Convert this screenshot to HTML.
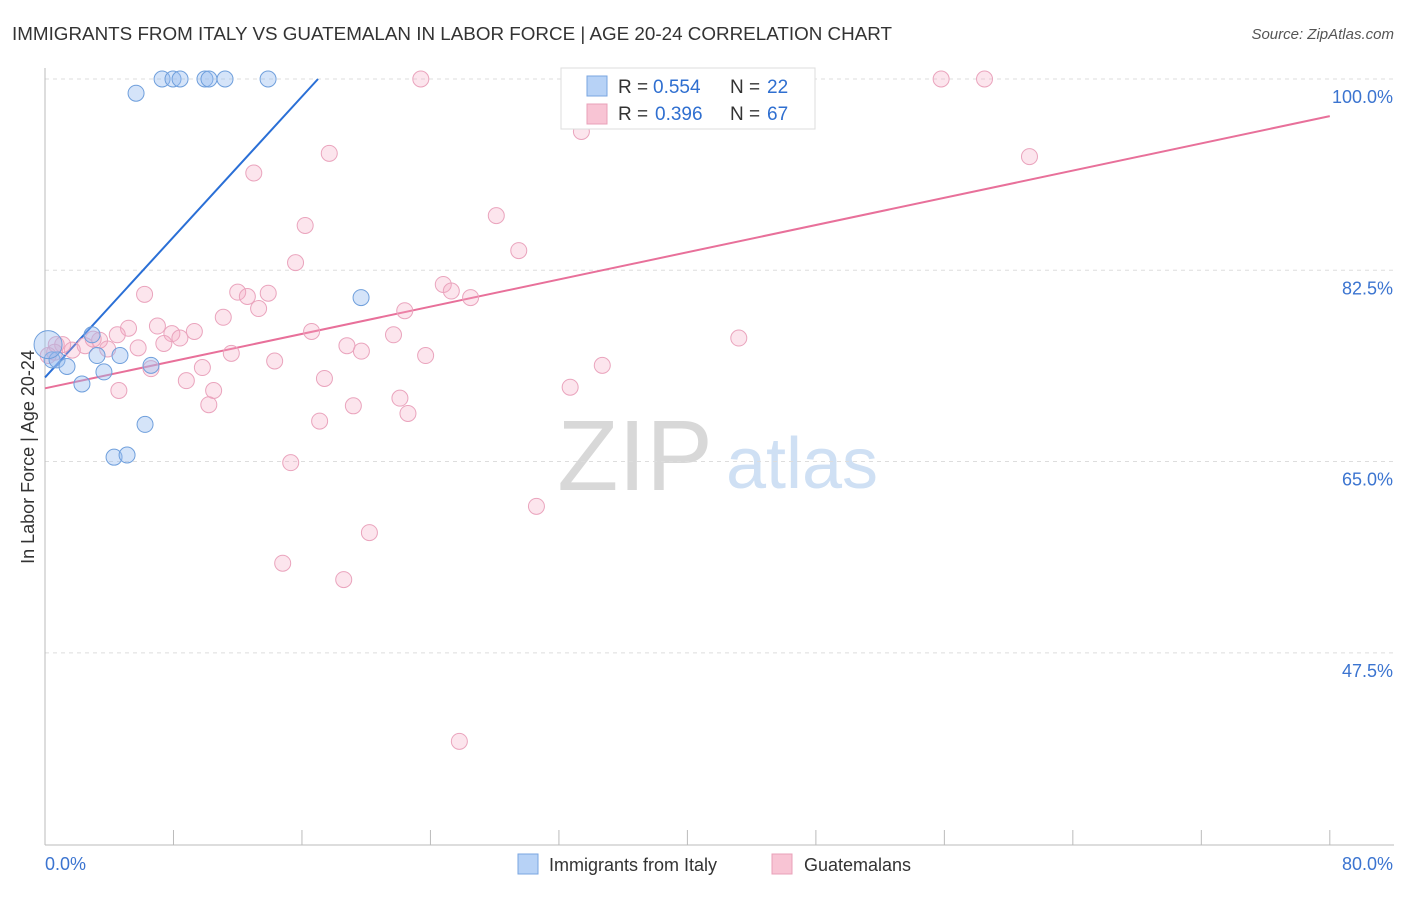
<!DOCTYPE html>
<html><head><meta charset="utf-8"><style>
body{margin:0;background:#fff;font-family:"Liberation Sans",sans-serif;}
svg text{font-family:"Liberation Sans",sans-serif;}
</style></head><body>
<svg width="1406" height="892" id="chart">
<text x="12" y="40" font-size="18" fill="#333" textLength="880" lengthAdjust="spacingAndGlyphs">IMMIGRANTS FROM ITALY VS GUATEMALAN IN LABOR FORCE | AGE 20-24 CORRELATION CHART</text>
<text x="1394" y="39" font-size="15" fill="#555" text-anchor="end" font-style="italic">Source: ZipAtlas.com</text>
<text x="34" y="457" font-size="18" fill="#333" text-anchor="middle" transform="rotate(-90 34 457)">In Labor Force | Age 20-24</text>
<g><text x="635" y="490" font-size="100" fill="#d8d8d8" text-anchor="middle" font-family="Liberation Serif, serif">ZIP</text><text x="802" y="488" font-size="72" fill="#cfe0f4" text-anchor="middle">atlas</text></g>
<g id="grid"></g><g id="axes"></g><g id="lines"></g><g id="pts"></g>
<g>
<rect x="561" y="68" width="254" height="61" fill="#fff" stroke="#ddd"/>
<rect x="587" y="76" width="20" height="20" fill="#b7d2f6" stroke="#7aa6e0"/>
<rect x="587" y="104" width="20" height="20" fill="#f8c4d4" stroke="#e9a0b8"/>
<text x="618" y="93" font-size="19" fill="#333">R =</text><text x="653" y="93" font-size="19" fill="#2f6fd0">0.554</text>
<text x="730" y="93" font-size="19" fill="#333">N =</text><text x="767" y="93" font-size="19" fill="#2f6fd0">22</text>
<text x="618" y="120" font-size="19" fill="#333">R =</text><text x="655" y="120" font-size="19" fill="#2f6fd0">0.396</text>
<text x="730" y="120" font-size="19" fill="#333">N =</text><text x="767" y="120" font-size="19" fill="#2f6fd0">67</text>
</g>
<g>
<rect x="518" y="854" width="20" height="20" fill="#b7d2f6" stroke="#7aa6e0"/>
<text x="549" y="871" font-size="18" fill="#333">Immigrants from Italy</text>
<rect x="772" y="854" width="20" height="20" fill="#f8c4d4" stroke="#e9a0b8"/>
<text x="804" y="871" font-size="18" fill="#333">Guatemalans</text>
</g>
</svg>
<script>
const blueX=[5.67,7.29,7.97,8.41,9.96,10.21,11.21,13.89,19.68,0.44,0.75,1.37,2.30,2.93,3.24,3.67,4.67,6.60,6.23,4.30,5.11,0.19];
const blueY=[98.7,100,100,100,100,100,100,100,80.0,74.3,74.3,73.7,72.1,76.6,74.7,73.2,74.7,73.8,68.4,65.4,65.6,75.7];
const pinkX=[23.4,36.6,55.8,58.5,33.4,61.3,17.7,13.0,16.2,28.1,29.5,15.6,24.8,25.3,26.5,6.2,12.0,12.6,13.9,13.3,11.1,22.4,7.0,5.2,7.9,9.3,8.4,16.6,21.7,43.2,7.4,5.8,4.5,3.4,2.5,1.7,1.1,0.6,0.7,18.8,19.7,23.7,11.6,14.3,6.6,9.8,8.8,4.6,10.5,17.4,34.7,32.7,22.1,19.2,10.2,22.6,17.1,15.3,30.6,20.2,14.8,18.6,25.8,3.0,3.9,0.2];
const pinkY=[100,100,100,100,95.2,92.9,93.2,91.4,86.6,87.5,84.3,83.2,81.2,80.6,80.0,80.3,80.5,80.1,80.4,79.0,78.2,78.8,77.4,77.2,76.7,76.9,76.3,76.9,76.6,76.3,75.8,75.4,76.6,76.1,75.6,75.2,75.7,75.0,75.7,75.6,75.1,74.7,74.9,74.2,73.5,73.6,72.4,71.5,71.5,72.6,73.8,71.8,70.8,70.1,70.2,69.4,68.7,64.9,60.9,58.5,55.7,54.2,39.4,76.2,75.3,74.7];
const blueLine=[0,72.7,17.0,100];
const pinkLine=[0,71.7,80,96.6];
const yTicks=[100,82.5,65,47.5];
const yTickLabels=["100.0%","82.5%","65.0%","47.5%"];
const NS="http://www.w3.org/2000/svg";
const sx=v=>45+v*16.06, sy=v=>79+(100-v)*10.93;
function mk(p,t,a){const e=document.createElementNS(NS,t);for(const k in a)e.setAttribute(k,a[k]);document.getElementById(p).appendChild(e);return e;}
yTicks.forEach((t,i)=>{
 const g=mk('grid','line',{x1:45,x2:1394,y1:sy(t),y2:sy(t),stroke:'#ddd','stroke-dasharray':'4 4'});
 
 
 const l=mk('axes','text',{x:1393,y:sy(t)+24,'font-size':18,fill:'#3b74d0','text-anchor':'end'});
 l.textContent=yTickLabels[i];
 
 
});
mk('axes','line',{x1:45,x2:45,y1:68,y2:845,stroke:'#bbb'});
mk('axes','line',{x1:45,x2:1394,y1:845,y2:845,stroke:'#bbb'});
for(let i=1;i<=10;i++){mk('axes','line',{x1:sx(i*8),x2:sx(i*8),y1:830,y2:845,stroke:'#bbb'});}
const x0=mk('axes','text',{x:45,y:870,'font-size':18,fill:'#3b74d0'});x0.textContent='0.0%';


const x1=mk('axes','text',{x:1393,y:870,'font-size':18,fill:'#3b74d0','text-anchor':'end'});x1.textContent='80.0%';


pinkX.forEach((x,i)=>{
 const c=mk('pts','circle',{cx:sx(x),cy:sy(pinkY[i]),r:8,fill:'rgba(244,170,196,0.3)',stroke:'#eaa4bd','stroke-width':1});
 
 
});
blueX.forEach((x,i)=>{
 const c=mk('pts','circle',{cx:sx(x),cy:sy(blueY[i]),r:i==21?14:8,fill:'rgba(150,188,240,0.4)',stroke:'#6f9fdc','stroke-width':1});
 
 
});
const bl=mk('lines','line',{x1:sx(blueLine[0]),y1:sy(blueLine[1]),x2:sx(blueLine[2]),y2:sy(blueLine[3]),stroke:'#2a6fd6','stroke-width':2});


const pl=mk('lines','line',{x1:sx(pinkLine[0]),y1:sy(pinkLine[1]),x2:sx(pinkLine[2]),y2:sy(pinkLine[3]),stroke:'#e8709a','stroke-width':2});


</script>
</body></html>
